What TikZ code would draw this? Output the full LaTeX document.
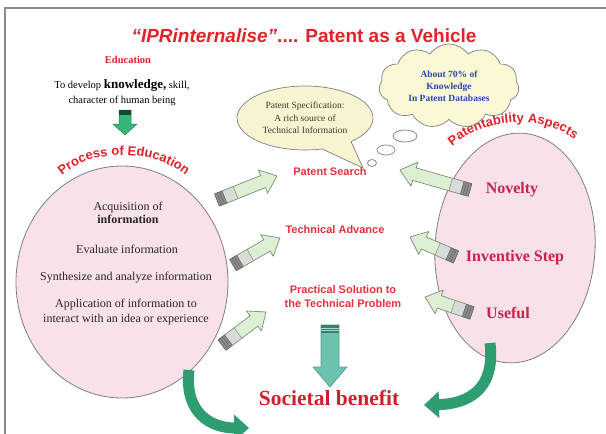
\documentclass[tikz,border=0pt]{standalone}
\usepackage{fontspec}
\setmainfont{Liberation Serif}
\setsansfont{Liberation Sans}
\usetikzlibrary{shapes.geometric,shapes.symbols,shapes.callouts,arrows.meta,decorations.text}

\definecolor{titlered}{HTML}{E0232B}
\definecolor{midred}{HTML}{E8303A}
\definecolor{crim}{HTML}{C8224E}
\definecolor{sbred}{HTML}{D0202E}
\definecolor{pinkfill}{HTML}{F9E1EA}
\definecolor{ellline}{HTML}{7F7F7F}
\definecolor{agreen}{HTML}{DCEFD2}
\definecolor{aedge}{HTML}{7E8E7A}
\definecolor{bandgray}{HTML}{8C8C8C}
\definecolor{bandlight}{HTML}{D8DCD6}
\definecolor{tealA}{HTML}{6CC2AE}
\definecolor{tealedge}{HTML}{5A9E8E}
\definecolor{tealdark}{HTML}{3C7C6C}
\definecolor{cgreen}{HTML}{2E9E70}
\definecolor{edugreen}{HTML}{34B57A}
\definecolor{bubfill}{HTML}{F7F4D2}
\definecolor{cloudfill}{HTML}{FBF8D6}
\definecolor{cloudtext}{HTML}{2A46A8}
\definecolor{bubtext}{HTML}{3A3A2E}
\definecolor{framegray}{HTML}{8A8A8A}

\tikzset{
  every node/.style={inner sep=0pt},
  titletxt/.style={font=\sffamily\bfseries\fontsize{19}{22}\selectfont, text=titlered},
  midtxt/.style={font=\sffamily\bfseries\fontsize{11}{14}\selectfont, text=midred, align=center},
  etxt/.style={font=\fontsize{12}{14.5}\selectfont, text=black!85, align=center},
  aspecttxt/.style={font=\bfseries\fontsize{16}{19}\selectfont, text=crim},
  bigell/.style={ellipse, draw=ellline, fill=pinkfill, line width=0.8pt},
  thought/.style={ellipse, draw=ellline, fill=white, line width=0.7pt},
  barrow/.pic={
    \filldraw[fill=agreen,draw=aedge,line width=0.7pt,line join=round]
      (0,-6.5) -- (#1-15,-6.5) -- (#1-15,-12.5) -- (#1,0) -- (#1-15,12.5) -- (#1-15,6.5) -- (0,6.5) -- cycle;
    \filldraw[fill=bandlight,draw=aedge,line width=0.5pt] (8,-6.5) rectangle (20,6.5);
    \filldraw[fill=bandgray,draw=black!60,line width=0.5pt] (0,-6.5) rectangle (8,6.5);
    \draw[black!60,line width=0.5pt] (2.7,-6.5) -- (2.7,6.5) (5.3,-6.5) -- (5.3,6.5);
  },
  tarrow/.pic={
    \filldraw[fill=tealA,draw=tealedge,line width=0.7pt,line join=round]
      (0,-9) -- (#1-20,-9) -- (#1-20,-17) -- (#1,0) -- (#1-20,17) -- (#1-20,9) -- (0,9) -- cycle;
    \fill[tealdark] (0,-9) rectangle (8,9);
    \draw[tealA!60!white,line width=0.6pt] (3,-9) -- (3,9) (5.5,-9) -- (5.5,9);
  },
  earrow/.pic={
    \filldraw[fill=edugreen,draw=edugreen!70!black,line width=0.5pt,line join=round]
      (0,-6) -- (#1-11,-6) -- (#1-11,-12) -- (#1,0) -- (#1-11,12) -- (#1-11,6) -- (0,6) -- cycle;
    \fill[edugreen!40!black] (0,-6) rectangle (5,6);
  }
}

\begin{document}
\begin{tikzpicture}[x=1pt,y=-1pt]
\useasboundingbox (0,0) rectangle (606,434);
\fill[white] (0,0) rectangle (606,434);
\draw[framegray,line width=1.5pt] (5,434) -- (5,8) -- (606,8);

% title
\node[titletxt] (title) at (304,36) {\textit{“IPRinternalise”}.... Patent as a Vehicle};

% education
\node[font=\bfseries\fontsize{10.5}{12}\selectfont, text=titlered] (edu) at (128,60) {Education};
\node[font=\fontsize{10.5}{15}\selectfont, align=center] (dev) at (122,93)
  {To develop \textbf{\fontsize{13}{15}\selectfont knowledge,} skill,\\character of human being};
\pic at (125,110) [rotate=-90] {earrow=25};

% big ellipses
\node[bigell, minimum width=212pt, minimum height=232pt] (lell) at (122,282) {};
\node[bigell, minimum width=160pt, minimum height=230pt, rotate=-4] (rell) at (515,248) {};

% arc labels
\path[decorate, decoration={text along path, text align=center, text color=titlered,
  text={|\sffamily\bfseries\fontsize{13}{14}\selectfont|Process of Education}}]
  (56,182) .. controls (85,146) and (160,146) .. (192,182);
\path[decorate, decoration={text along path, text align=center, text color=titlered,
  text={|\sffamily\bfseries\fontsize{13}{14}\selectfont|Patentability Aspects}}]
  (444,154) .. controls (478,117) and (545,109) .. (583,147);

% left ellipse content
\node[etxt, font=\fontsize{12}{13.5}\selectfont] (acq) at (128,213) {Acquisition of\\\textbf{information}};
\node[etxt] (eval) at (127,249) {Evaluate information};
\node[etxt] (synth) at (126,278) {Synthesize and analyze information};
\node[etxt, font=\fontsize{12}{15}\selectfont] (appl) at (126,312) {Application of information to\\interact with an idea or experience};

% right ellipse content
\node[aspecttxt] (nov) at (512,190) {Novelty};
\node[aspecttxt] (inv) at (515,258) {Inventive Step};
\node[aspecttxt] (use) at (508,313) {Useful};

% speech bubble and cloud
\node[ellipse callout, draw=ellline, fill=bubfill, line width=0.7pt,
  minimum width=136pt, minimum height=64pt, callout pointer arc=28,
  callout absolute pointer={(363,168)},
  font=\fontsize{9.5}{12.5}\selectfont, text=bubtext, align=center] (spec) at (305,118)
  {Patent Specification:\\A rich source of\\Technical Information};
\node[cloud, draw=ellline, fill=cloudfill, line width=0.7pt, cloud puffs=11, cloud puff arc=110,
  aspect=1.7, minimum width=140pt, minimum height=84pt,
  font=\bfseries\fontsize{9.5}{12}\selectfont, text=cloudtext, align=center] (cloud) at (449,86)
  {About 70\% of\\Knowledge\\In Patent Databases};
\node[thought, minimum width=24pt, minimum height=12pt] (t1) at (405,136) {};
\node[thought, minimum width=18pt, minimum height=10pt] (t2) at (386,150) {};
\node[thought, minimum width=9pt, minimum height=7pt] (t3) at (372,163) {};

% middle texts
\node[midtxt] (psearch) at (330,172) {Patent Search};
\node[midtxt] (tadv) at (335,230) {Technical Advance};
\node[midtxt] (prac) at (343,297) {Practical Solution to\\the Technical Problem};

% block arrows left
\pic at (217,200) [rotate=21.8] {barrow=64.6};
\pic at (233,265) [rotate=29.9] {barrow=54.2};
\pic at (222,345) [rotate=36.9] {barrow=55};
% block arrows right
\pic at (470,190) [rotate=164.1] {barrow=72.8};
\pic at (456,257) [rotate=156.5] {barrow=50.2};
\pic at (472,313) [rotate=161.2] {barrow=49.6};

% down arrow
\pic at (330,325) [rotate=-90] {tarrow=62};

% societal benefit
\node[font=\bfseries\fontsize{21.5}{24}\selectfont, text=sbred] (soc) at (329,398) {Societal benefit};

% curved arrows
\draw[cgreen, line width=11pt, -{Triangle[width=26pt,length=15pt]}]
  (189,370) .. controls (184,414) and (212,428) .. (249,428);
\draw[cgreen, line width=11pt, -{Triangle[width=26pt,length=15pt]}]
  (490,343) .. controls (496,392) and (465,404) .. (424,405);
\end{tikzpicture}
\end{document}
